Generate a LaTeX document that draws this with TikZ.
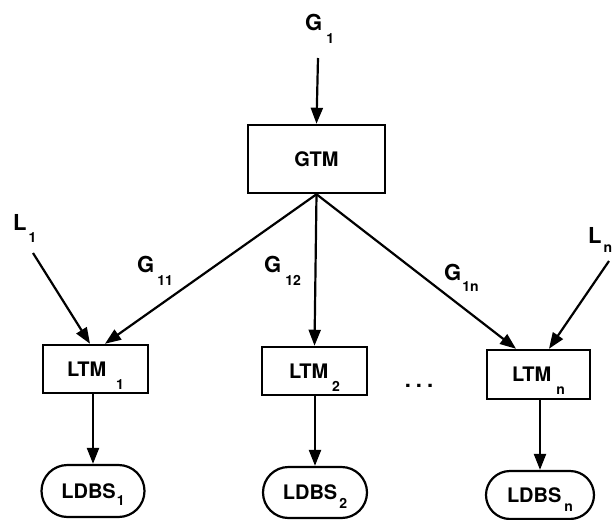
\documentclass[tikz,border=0pt]{standalone}
\usepackage{fontspec}
\setmainfont{TeX Gyre Heros}
\usetikzlibrary{arrows.meta,positioning,shapes.misc}
\tikzset{>={Triangle[length=16pt,width=12pt]}}
\newcommand{\subsize}{\fontsize{14}{14}\selectfont}
% base, gap, subscript (dropped below the base line)
\newcommand{\lowsub}[4][13pt]{#2\kern#3\raisebox{-#1}[0pt][0pt]{\subsize #4}}

\begin{document}
\begin{tikzpicture}[x=1pt,y=-1pt,
  tmbox/.style={draw, line width=2.5pt, rectangle, inner sep=0pt,
    minimum width=105pt, minimum height=48pt,
    font=\fontsize{20}{24}\selectfont\bfseries},
  dbbox/.style={draw, line width=2.2pt, rounded rectangle, inner sep=0pt,
    minimum width=104pt, minimum height=50pt,
    font=\fontsize{20}{24}\selectfont\bfseries},
  lbl/.style={anchor=base west, inner sep=0pt,
    font=\fontsize{22}{26}\selectfont\bfseries},
  flow/.style={->, line width=2.2pt}]
  \useasboundingbox (0,0) rectangle (614,520);

  % --- 1. Global transaction manager ---
  \node[tmbox, minimum width=137pt, minimum height=68pt] (gtm) at (316.5,159) {GTM};
  \node[lbl] (gone) at (305,30) {\lowsub{G}{4pt}{1}};
  \coordinate (gin) at (318,58);

  % --- 2. Local transaction managers ---
  \node[tmbox] (ltm1) at (95.5,369) {\lowsub{LTM}{10pt}{1}\hspace{20pt}};
  \node[tmbox] (ltm2) at (314.5,371) {\lowsub{LTM}{4pt}{2}};
  \node[tmbox, minimum width=103pt, minimum height=49pt] (ltmn) at (538.5,374.5) {\lowsub{LTM}{5pt}{n}\hspace{18pt}};
  \node[anchor=base, font=\fontsize{22}{26}\selectfont\bfseries] (dots) at (419,387) {.\hspace{5pt}.\hspace{5pt}.};

  % --- 3. Local databases ---
  \node[dbbox, minimum width=103pt, minimum height=52pt] (db1) at (93,491) {\lowsub[7pt]{LDBS}{1pt}{1}};
  \node[dbbox, minimum height=51pt] (db2) at (315,492.5) {\lowsub[9pt]{LDBS}{2pt}{2}};
  \node[dbbox, minimum width=108pt, minimum height=48pt] (dbn) at (540,495) {\lowsub[9pt]{LDBS}{3pt}{n}\hspace{25pt}};

  % --- 4. Local inputs ---
  \node[lbl] (lone) at (13,230) {\lowsub[12pt]{L}{2pt}{1}};
  \node[lbl] (lenn) at (588,243) {\lowsub[9pt]{L}{2pt}{n}};
  \coordinate (lin1) at (33,253);
  \coordinate (linn) at (609,261);

  % --- 5. Arrows ---
  \draw[flow] (gin) -- (gtm.north);
  \draw[flow] (lin1) -- ([xshift=-5.5pt]ltm1.north);
  \draw[flow] (gtm.south) -- ([xshift=9.5pt]ltm1.north);
  \draw[flow] (gtm.south) -- (ltm2.north);
  \draw[flow] (gtm.south) -- ([xshift=-22.5pt]ltmn.north);
  \draw[flow] (linn) -- ([xshift=10.5pt]ltmn.north);
  \draw[flow] (db1.north |- ltm1.south) -- (db1.north);
  \draw[flow] (db2.north |- ltm2.south) -- (db2.north);
  \draw[flow] (dbn.north |- ltmn.south) -- (dbn.north);

  % --- 6. Arrow labels ---
  \node[lbl] (g11) at (137,272) {\lowsub{G}{3pt}{11}};
  \node[lbl] (g12) at (264,272) {\lowsub{G}{4pt}{12}};
  \node[lbl] (g1n) at (444,280) {\lowsub[11pt]{G}{1pt}{1n}};
\end{tikzpicture}
\end{document}
